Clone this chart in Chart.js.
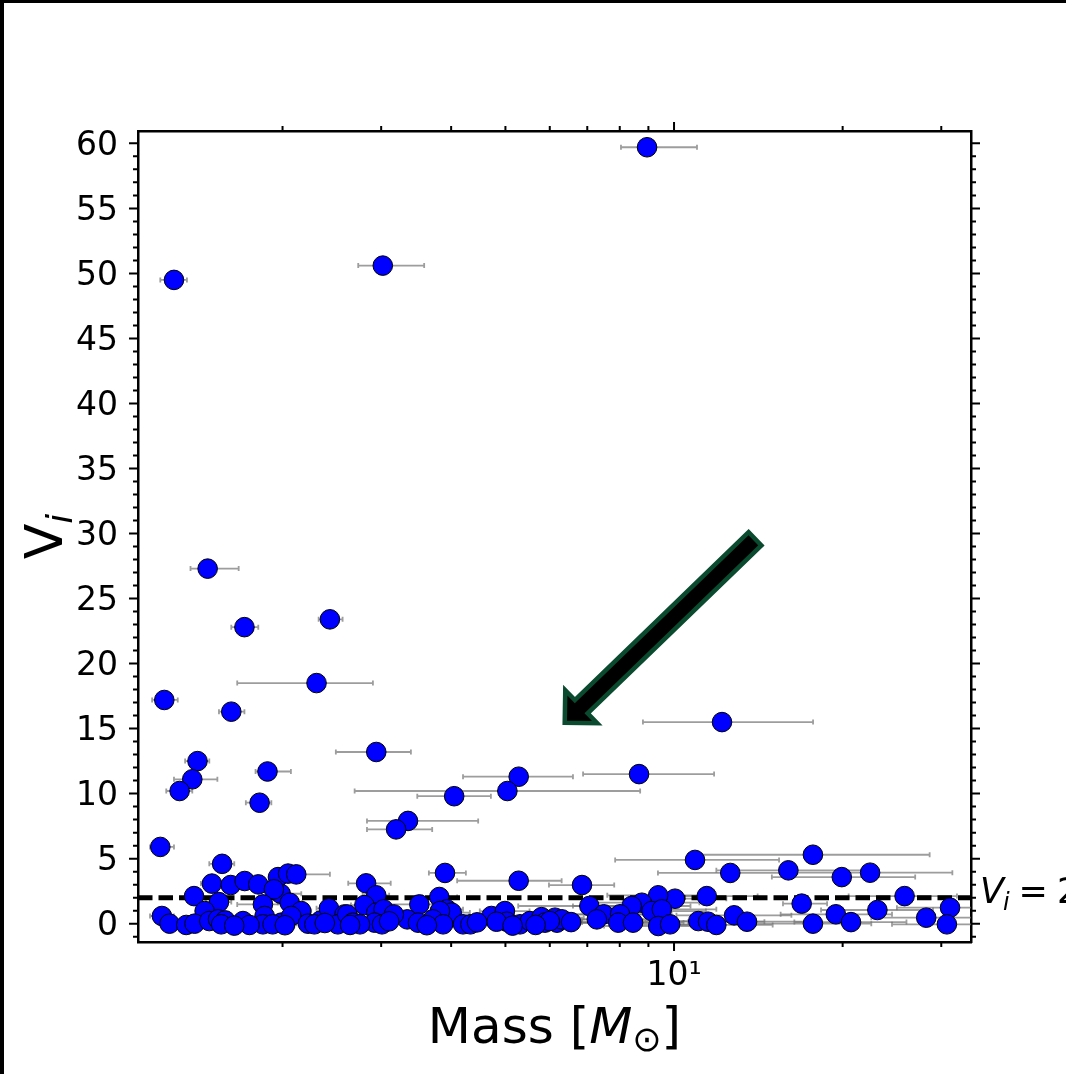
<!DOCTYPE html>
<html>
<head>
<meta charset="utf-8">
<script src="https://cdn.jsdelivr.net/npm/chart.js@4.4.1/dist/chart.umd.min.js"></script>
<style>
html, body { margin: 0; padding: 0; background: #fff; }
canvas { display: block; }
</style>
</head>
<body>
<canvas id="chart" width="1066" height="1074"></canvas>
<script>
// star masses [Msun], V_i values and the mass error range (lower / upper bound)
const mass = [
  8.95, 3.02, 1.28, 1.47, 2.43, 1.71, 2.30, 1.23, 1.62, 12.18,
  2.94, 1.41, 1.88, 8.66, 5.28, 1.38, 5.04, 1.31, 4.05, 1.82,
  3.35, 3.19, 1.21, 10.9, 17.7, 1.56, 3.90, 12.6, 16.0, 19.93,
  22.39, 5.28, 6.85,
  1.496, 1.616, 1.712, 1.81, 1.963, 2.046, 2.116, 1.39, 1.54, 1.452,
  1.985, 1.93, 1.845, 2.06, 2.16, 1.218, 1.257, 1.346, 1.393, 1.48,
  1.534, 1.58, 1.554, 1.70, 1.858, 1.845, 1.99, 2.073, 2.22, 2.34,
  2.42, 2.58, 1.746, 1.92, 2.28, 2.51,
  2.82, 2.94, 3.81, 3.51, 2.80, 2.61, 2.94, 3.03, 3.93, 4.01,
  3.82, 3.34, 3.49, 3.71, 3.87, 4.2, 4.33, 2.92, 2.67, 3.01,
  4.72, 4.99, 5.03, 5.31, 5.53, 5.80, 5.88, 6.13, 4.82, 3.16, 2.75,
  11.44, 10.04, 9.37, 8.76, 8.4, 7.06, 7.49, 7.28, 8.01, 7.95,
  8.45, 9.12, 9.51, 9.37, 9.84, 11.05, 11.5, 11.9, 12.8, 13.5,
  6.18, 6.31, 6.0,
  16.9, 25.8, 19.45, 17.7, 20.7, 23.07, 28.2, 31.1, 30.7,
  1.64, 2.02, 2.38, 2.64, 3.10, 3.62, 4.45, 5.15, 5.66, 6.55
];
const vi = [
  59.7, 50.6, 49.5, 27.3, 23.4, 22.8, 18.5, 17.2, 16.3, 15.5,
  13.2, 12.5, 11.7, 11.5, 11.3, 11.1, 10.2, 10.2, 9.8, 9.3,
  7.9, 7.25, 5.9, 4.9, 5.3, 4.6, 3.9, 3.9, 4.1, 3.58,
  3.92, 3.3, 2.97,
  3.08, 2.97, 3.28, 3.02, 3.58, 3.85, 3.79, 2.12, 1.66, 0.97,
  2.3, 2.64, 1.48, 1.61, 0.97, 0.59, 0.0, -0.1, 0.0, 0.2,
  0.33, 0.25, -0.05, 0.2, 0.59, -0.05, 0.08, 0.59, 0.0, 0.25,
  1.18, 0.71, -0.1, -0.05, -0.05, -0.05,
  3.1, 2.18, 2.05, 1.48, 1.43, 0.71, 0.85, 1.1, 1.1, 0.85,
  0.97, 0.33, 0.08, 0.33, -0.05, -0.05, -0.05, 0.08, 0.08, -0.05,
  0.59, 0.97, 0.15, -0.05, 0.2, 0.5, 0.08, 0.46, 0.15, 0.71, -0.05,
  2.12, 1.92, 2.18, 1.61, 1.36, 1.36, 0.72, 0.33, 0.72, 0.08,
  0.08, 0.97, 1.1, -0.18, -0.05, 0.2, 0.15, -0.1, 0.64, 0.15,
  0.08, 0.33, 0.2,
  1.54, 2.12, 0.72, 0.0, 0.12, 1.05, 0.46, 1.23, -0.05,
  -0.15, -0.12, 0.05, -0.1, 0.18, -0.12, 0.1, -0.15, -0.1, 0.12
];
const massLo = [
  8.04, 2.73, 1.21, 1.37, 2.32, 1.62, 1.66, 1.17, 1.54, 8.80,
  2.49, 1.34, 1.79, 6.88, 4.20, 1.28, 2.69, 1.24, 3.48, 1.72,
  2.83, 2.83, 1.16, 7.85, 11.13, 1.48, 3.65, 9.36, 11.9, 14.95,
  16.6, 4.10, 5.98,
  1.43, 1.56, 1.65, 1.74, 1.89, 1.97, 2.0, 1.34, 1.46, 1.40,
  1.91, 1.86, 1.66, 1.96, 2.08, 1.16, 1.21, 1.30, 1.34, 1.42,
  1.48, 1.52, 1.50, 1.63, 1.79, 1.78, 1.91, 1.99, 2.12, 2.24,
  2.30, 2.45, 1.68, 1.85, 2.18, 2.40,
  2.62, 2.78, 3.55, 3.10, 2.65, 2.47, 2.78, 2.86, 3.68, 3.72,
  3.58, 3.13, 3.26, 3.46, 3.60, 3.90, 4.02, 2.76, 2.52, 2.84,
  4.30, 4.50, 4.55, 4.80, 4.95, 5.20, 5.25, 5.45, 4.38, 2.97, 2.60,
  9.30, 8.10, 7.60, 6.90, 6.60, 5.27, 6.10, 5.95, 6.50, 6.40,
  6.85, 7.30, 7.60, 7.50, 7.90, 8.80, 9.10, 9.50, 10.1, 10.6,
  5.40, 5.50, 5.25,
  15.65, 20.5, 15.5, 14.0, 16.4, 18.3, 22.5, 25.0, 24.5,
  1.58, 1.94, 2.27, 2.50, 2.92, 3.38, 4.10, 4.68, 5.05, 5.80
];
const massHi = [
  10.99, 3.58, 1.35, 1.67, 2.56, 1.81, 2.90, 1.30, 1.71, 17.71,
  3.39, 1.48, 2.07, 11.79, 6.60, 1.53, 8.70, 1.38, 4.71, 1.91,
  4.47, 3.70, 1.28, 15.4, 28.6, 1.64, 4.25, 16.5, 22.0, 26.95,
  31.4, 6.30, 7.82,
  1.56, 1.68, 1.78, 1.89, 2.04, 2.13, 2.43, 1.44, 1.62, 1.51,
  2.16, 2.01, 2.02, 2.17, 2.25, 1.28, 1.31, 1.40, 1.45, 1.54,
  1.59, 1.64, 1.61, 1.77, 1.93, 1.92, 2.07, 2.16, 2.33, 2.45,
  2.55, 2.72, 1.81, 1.99, 2.39, 2.63,
  3.12, 3.10, 4.10, 3.95, 2.96, 2.76, 3.11, 3.20, 4.20, 4.32,
  4.08, 3.56, 3.73, 3.97, 4.15, 4.52, 4.66, 3.09, 2.82, 3.18,
  5.18, 5.52, 5.55, 5.88, 6.15, 6.45, 6.55, 6.90, 5.30, 3.36, 2.91,
  14.1, 12.4, 11.6, 11.1, 10.7, 9.00, 9.20, 8.90, 9.90, 9.85,
  10.4, 11.4, 11.9, 11.7, 12.3, 13.9, 14.5, 15.0, 16.2, 17.2,
  7.10, 7.25, 6.85,
  18.76, 32.0, 24.5, 22.5, 26.0, 29.0, 35.0, 38.0, 38.0,
  1.70, 2.10, 2.49, 2.79, 3.29, 3.87, 4.82, 5.66, 6.30, 7.45
];

// axes
const xLimits = [1.104, 33.9];
const yLimits = [-1.41, 60.95];
const xMajorTicks = [10];
const xMajorLabels = ['10¹'];
const xMinorTicks = [2, 3, 4, 5, 6, 7, 8, 9, 20, 30];
const yMajorTicks = [0, 5, 10, 15, 20, 25, 30, 35, 40, 45, 50, 55, 60];
const yMinorTicks = [-1, 1, 2, 3, 4, 6, 7, 8, 9, 11, 12, 13, 14, 16, 17, 18, 19, 21, 22, 23, 24,
  26, 27, 28, 29, 31, 32, 33, 34, 36, 37, 38, 39, 41, 42, 43, 44, 46, 47, 48, 49,
  51, 52, 53, 54, 56, 57, 58, 59];

// threshold line and the annotation arrow (data coordinates)
const viThreshold = 2;
const arrowTail = { x: 13.95, y: 29.6 };
const arrowTip = { x: 6.38, y: 15.45 };

const FONT = '"DejaVu Sans", sans-serif';

const points = mass.map((m, i) => ({ x: m, y: vi[i] }));

function drawArrow(ctx, x0, y0, x1, y1) {
  const dx = x1 - x0, dy = y1 - y0;
  const len = Math.hypot(dx, dy);
  const ux = dx / len, uy = dy / len;
  const nx = -uy, ny = ux;
  const sw = 9.2, hw = 23, hl = 23;
  const bx = x1 - ux * hl, by = y1 - uy * hl;
  ctx.save();
  ctx.beginPath();
  ctx.moveTo(x0 + nx * sw, y0 + ny * sw);
  ctx.lineTo(bx + nx * sw, by + ny * sw);
  ctx.lineTo(bx + nx * hw, by + ny * hw);
  ctx.lineTo(x1, y1);
  ctx.lineTo(bx - nx * hw, by - ny * hw);
  ctx.lineTo(bx - nx * sw, by - ny * sw);
  ctx.lineTo(x0 - nx * sw, y0 - ny * sw);
  ctx.closePath();
  ctx.fillStyle = '#000';
  ctx.fill();
  ctx.lineWidth = 4.5;
  ctx.lineJoin = 'miter';
  ctx.strokeStyle = '#0a4a2e';
  ctx.stroke();
  ctx.restore();
}

const decor = {
  id: 'decor',
  beforeDraw(chart) {
    const ctx = chart.ctx;
    ctx.save();
    ctx.fillStyle = '#fff';
    ctx.fillRect(0, 0, chart.width, chart.height);
    // figure frame (top and left edge)
    ctx.fillStyle = '#000';
    ctx.fillRect(0, 0, chart.width, 3);
    ctx.fillRect(0, 0, 4, chart.height);
    ctx.restore();
  },
  beforeDatasetsDraw(chart) {
    const { ctx, chartArea: a, scales: { x, y } } = chart;
    ctx.save();
    ctx.beginPath();
    ctx.rect(a.left, a.top, a.right - a.left, a.bottom - a.top);
    ctx.clip();
    ctx.strokeStyle = 'rgba(115,115,115,0.7)';
    ctx.lineWidth = 1.8;
    mass.forEach((m, i) => {
      const py = y.getPixelForValue(vi[i]);
      const x0 = x.getPixelForValue(massLo[i]);
      const x1 = x.getPixelForValue(massHi[i]);
      ctx.beginPath();
      ctx.moveTo(x0, py); ctx.lineTo(x1, py);
      ctx.moveTo(x0, py - 2.5); ctx.lineTo(x0, py + 2.5);
      ctx.moveTo(x1, py - 2.5); ctx.lineTo(x1, py + 2.5);
      ctx.stroke();
    });
    ctx.restore();
  },
  afterDraw(chart) {
    const { ctx, chartArea: a, scales: { x, y } } = chart;
    ctx.save();
    ctx.strokeStyle = '#000';
    ctx.lineWidth = 2;
    const xt = (vals, len) => vals.forEach(v => {
      const px = x.getPixelForValue(v);
      ctx.beginPath();
      ctx.moveTo(px, a.bottom); ctx.lineTo(px, a.bottom + len);
      ctx.moveTo(px, a.top); ctx.lineTo(px, a.top - len);
      ctx.stroke();
    });
    const yt = (vals, len) => vals.forEach(v => {
      const py = y.getPixelForValue(v);
      ctx.beginPath();
      ctx.moveTo(a.left, py); ctx.lineTo(a.left - len, py);
      ctx.moveTo(a.right, py); ctx.lineTo(a.right + len, py);
      ctx.stroke();
    });
    xt(xMajorTicks, 9); xt(xMinorTicks, 5);
    yt(yMajorTicks, 9); yt(yMinorTicks, 5);

    drawArrow(ctx,
      x.getPixelForValue(arrowTail.x), y.getPixelForValue(arrowTail.y),
      x.getPixelForValue(arrowTip.x), y.getPixelForValue(arrowTip.y));

    ctx.fillStyle = '#000';
    ctx.textBaseline = 'alphabetic';
    ctx.textAlign = 'left';

    // threshold label: V_i = 2
    const ly = y.getPixelForValue(viThreshold) + 5;
    let lx = a.right + 9;
    ctx.font = 'italic 35px ' + FONT;
    ctx.fillText('V', lx, ly);
    lx += ctx.measureText('V').width - 1;
    ctx.font = 'italic 24px ' + FONT;
    ctx.fillText('i', lx, ly + 7);
    lx += ctx.measureText('i').width + 9;
    ctx.font = '35px ' + FONT;
    ctx.fillText('=', lx, ly);
    lx += ctx.measureText('=').width + 9;
    ctx.fillText(String(viThreshold), lx, ly);

    // x axis title: Mass [M_sun]
    const parts = [
      { t: 'Mass [', f: '50px ' + FONT, dy: 0 },
      { t: 'M', f: 'italic 50px ' + FONT, dy: 0 },
      { t: '⊙', f: '35px ' + FONT, dy: 8 },
      { t: ']', f: '50px ' + FONT, dy: 0 }
    ];
    let total = 0;
    parts.forEach(p => { ctx.font = p.f; p.w = ctx.measureText(p.t).width; total += p.w; });
    let tx = (a.left + a.right) / 2 - total / 2;
    const tb = 1043;
    parts.forEach(p => { ctx.font = p.f; ctx.fillText(p.t, tx, tb + p.dy); tx += p.w; });

    // y axis title: V_i
    ctx.translate(62, (a.top + a.bottom) / 2);
    ctx.rotate(-Math.PI / 2);
    ctx.font = '52px ' + FONT;
    const vw = ctx.measureText('V').width;
    ctx.font = 'italic 36px ' + FONT;
    const iw = ctx.measureText('i').width;
    const sx = -(vw + iw) / 2;
    ctx.font = '52px ' + FONT;
    ctx.fillText('V', sx, 0);
    ctx.font = 'italic 36px ' + FONT;
    ctx.fillText('i', sx + vw, 10);
    ctx.restore();
  }
};

new Chart(document.getElementById('chart'), {
  type: 'scatter',
  data: {
    datasets: [
      {
        data: points,
        backgroundColor: '#0000ff',
        borderColor: '#000',
        borderWidth: 1,
        pointRadius: 9.8,
        pointHoverRadius: 9.8
      },
      {
        type: 'line',
        data: [{ x: xLimits[0], y: viThreshold }, { x: xLimits[1], y: viThreshold }],
        borderColor: '#000',
        borderWidth: 5,
        borderDash: [14.5, 6],
        pointRadius: 0,
        fill: false
      }
    ]
  },
  options: {
    responsive: false,
    animation: false,
    devicePixelRatio: 1,
    layout: { padding: 0, autoPadding: false },
    plugins: { legend: { display: false }, tooltip: { enabled: false } },
    scales: {
      x: {
        type: 'logarithmic',
        position: 'bottom',
        min: xLimits[0],
        max: xLimits[1],
        afterBuildTicks: s => { s.ticks = xMajorTicks.map(v => ({ value: v })); },
        afterFit: s => { s.height = 132; },
        grid: { display: false, drawTicks: false },
        border: { display: true, color: '#000', width: 2.5 },
        ticks: {
          autoSkip: false,
          maxRotation: 0,
          padding: 15,
          color: '#000',
          font: { family: FONT, size: 33 },
          callback: v => xMajorLabels[xMajorTicks.indexOf(v)] ?? ''
        }
      },
      xTop: {
        type: 'linear',
        position: 'top',
        min: 0, max: 1,
        afterFit: s => { s.height = 131; },
        grid: { display: false, drawTicks: false },
        border: { display: true, color: '#000', width: 2.5 },
        ticks: { display: false }
      },
      y: {
        type: 'linear',
        position: 'left',
        min: yLimits[0],
        max: yLimits[1],
        afterBuildTicks: s => { s.ticks = yMajorTicks.map(v => ({ value: v })); },
        afterFit: s => { s.width = 138; },
        grid: { display: false, drawTicks: false },
        border: { display: true, color: '#000', width: 2.5 },
        ticks: {
          padding: 20,
          labelOffset: 3,
          color: '#000',
          font: { family: FONT, size: 33 },
          callback: v => String(v)
        }
      },
      yRight: {
        type: 'linear',
        position: 'right',
        min: 0, max: 1,
        afterFit: s => { s.width = 95; },
        grid: { display: false, drawTicks: false },
        border: { display: true, color: '#000', width: 2.5 },
        ticks: { display: false }
      }
    }
  },
  plugins: [decor]
});
</script>
</body>
</html>
